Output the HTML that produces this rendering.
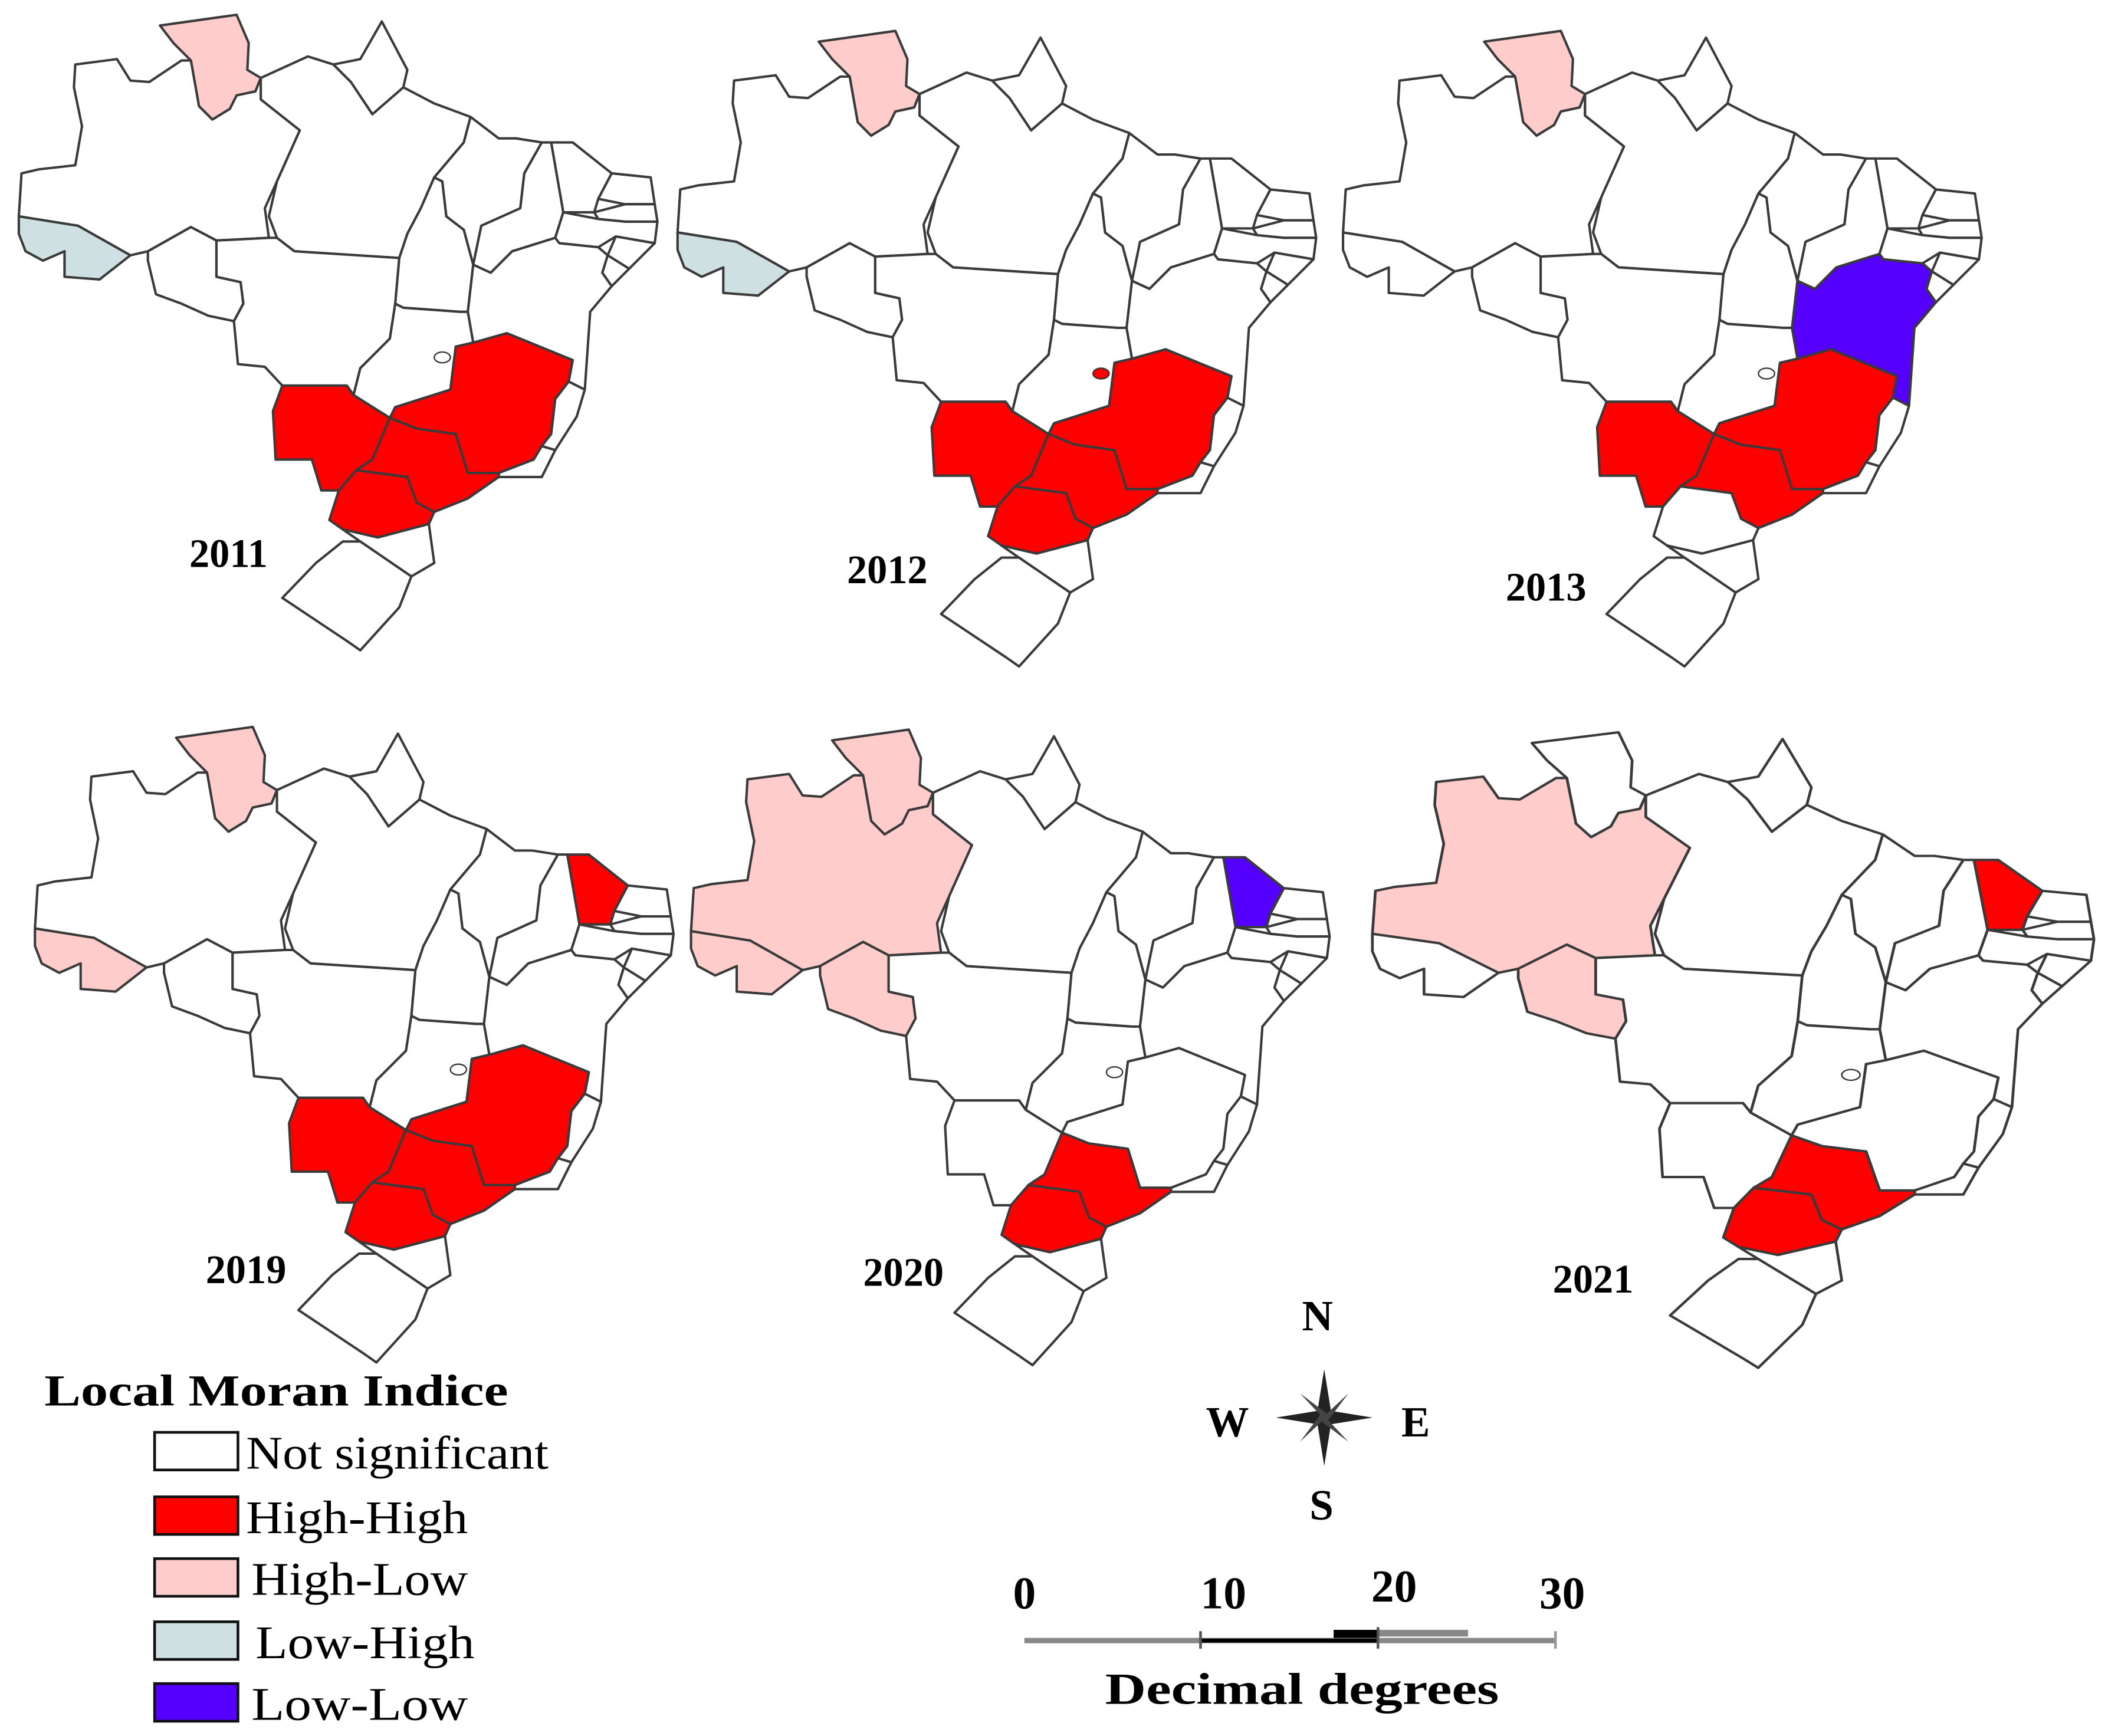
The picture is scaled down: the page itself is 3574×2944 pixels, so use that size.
<!DOCTYPE html>
<html><head><meta charset="utf-8"><style>
html,body{margin:0;padding:0;background:#fff;}
svg{display:block;}
text{font-family:"Liberation Serif",serif;}
</style></head><body>
<svg id="fig" width="3574" height="2944" viewBox="0 0 1568 1292" preserveAspectRatio="none" xmlns="http://www.w3.org/2000/svg">
<g id="panels"></g>
<g>
<text x="33" y="1046" font-size="33" font-weight="bold" textLength="345" lengthAdjust="spacingAndGlyphs">Local Moran Indice</text>
<g id="legend-rows"></g>
</g>
<g>
<text x="980" y="990" font-size="32" font-weight="bold" text-anchor="middle">N</text>
<text x="913" y="1069" font-size="32" font-weight="bold" text-anchor="middle">W</text>
<text x="1053" y="1069" font-size="32" font-weight="bold" text-anchor="middle">E</text>
<text x="983" y="1131" font-size="32" font-weight="bold" text-anchor="middle">S</text>
<g transform="translate(985,1055)" fill="#222">
<polygon points="0,-36 5,-5 36,0 5,5 0,36 -5,5 -36,0 -5,-5"/>
<polygon points="-18,-18 2,-3 18,-18 3,2 18,18 -2,3 -18,18 -3,-2" fill="#444"/>
</g>
</g>
<g>
<text x="762" y="1197" font-size="34" font-weight="bold" text-anchor="middle">0</text>
<text x="910" y="1197" font-size="34" font-weight="bold" text-anchor="middle">10</text>
<text x="1037" y="1192" font-size="34" font-weight="bold" text-anchor="middle">20</text>
<text x="1162" y="1197" font-size="34" font-weight="bold" text-anchor="middle">30</text>
<line x1="762" y1="1221" x2="1157" y2="1221" stroke="#888" stroke-width="4"/>
<line x1="893" y1="1221" x2="1025" y2="1221" stroke="#000" stroke-width="3"/>
<rect x="992" y="1213" width="33" height="6" fill="#000"/>
<rect x="1025" y="1213" width="67" height="5" fill="#888"/>
<line x1="893" y1="1214" x2="893" y2="1227" stroke="#555" stroke-width="2"/>
<line x1="1025" y1="1211" x2="1025" y2="1227" stroke="#555" stroke-width="2"/>
<line x1="1157" y1="1214" x2="1157" y2="1227" stroke="#999" stroke-width="2"/>
<text x="822" y="1268" font-size="33" font-weight="bold" textLength="293" lengthAdjust="spacingAndGlyphs">Decimal degrees</text>
</g>
</svg>
<script>
const years=["2011","2012","2013","2019","2020","2021"];
const redStates=[["MS","SP","PR","MG"],["MS","SP","PR","MG","DF"],["MS","SP","MG"],["MS","SP","PR","MG","CE"],["SP","PR"],["SP","PR","CE"]];
const pinkStates=[["RR"],["RR"],["RR"],["RR","AC"],["RR","AM","AC","RO"],["AM","RO"]];
const blueStates=[["AC"],["AC"],[],[],[],[]];
const purpleStates=[[],[],["BA"],[],["CE"],[]];
const legendLabels=["Not significant","High-High","High-Low","Low-High","Low-Low"];
const legendColors=["#ffffff","#ff0000","#ffcccc","#cfe0e3","#5500ff"];

const S={
RR:"119,19 176,11 185,32 184,52 194,58 190,68 176,71 171,81 158,89 148,79 142,45 129,32",
AM:"56,48 87,44 97,60 111,61 135,45 142,45 148,79 158,89 171,81 176,71 190,68 194,58 194,74 223,97 206,135 197,155 200,177 161,179 142,169 110,187 97,190 58,168 14,161 16,129 29,126 56,123 61,94 55,65",
AC:"14,161 58,168 97,190 74,208 48,206 48,187 32,194 19,187 14,174",
RO:"110,187 142,169 161,179 161,206 179,210 181,226 174,239 155,235 135,226 116,219 110,194",
PA:"194,58 229,42 248,48 261,61 277,85 300,65 323,77 350,87 345,106 323,132 313,155 303,174 297,192 219,187 206,177 200,161 206,135 223,97 194,74",
AP:"248,48 268,44 284,16 303,52 300,65 277,85 261,61",
MT:"161,179 200,177 206,177 219,187 297,192 294,226 290,252 268,274 263,294 258,287 210,287 197,273 177,271 174,239 181,226 179,210 161,206",
MS:"210,287 258,287 263,294 290,311 277,342 265,350 252,365 239,365 232,342 205,342 203,306",
GO:"294,226 300,229 342,232 348,232 352,255 339,258 335,290 294,303 290,311 263,294 268,274 290,252",
TO:"297,192 303,174 313,155 323,132 329,135 332,161 345,171 352,197 348,232 342,232 300,229 294,226",
MA:"350,87 371,103 384,103 403,106 390,129 387,155 358,168 352,197 345,171 332,161 329,135 323,132 345,106",
PI:"403,106 410,106 419,158 413,177 381,187 365,203 352,197 358,168 387,155 390,129",
CE:"410,106 426,106 455,129 445,148 442,158 419,158",
RN:"455,129 484,132 487,152 465,152 445,148",
PB:"442,158 465,152 487,152 489,165 465,165 445,163",
PE:"419,158 445,163 465,165 489,165 487,181 458,176 445,184 416,181 413,177",
AL:"458,176 487,181 468,200 452,190",
SE:"452,190 468,200 455,213 448,203",
BA:"352,197 365,203 381,187 413,177 416,181 445,184 452,190 448,203 455,213 439,232 435,290 423,284 426,268 377,248 352,255 348,232",
MG:"352,255 377,248 426,268 423,284 413,297 410,323 397,342 371,352 348,352 339,323 310,319 290,311 294,303 335,290 339,258",
ES:"423,284 435,290 429,310 413,335 403,332 410,323 413,297",
RJ:"397,342 403,332 413,335 403,355 371,355 371,352",
SP:"290,311 310,319 339,323 348,352 371,352 371,355 348,371 323,381 310,374 303,355 265,350 277,342",
PR:"265,350 303,355 310,374 323,381 319,390 281,400 255,394 245,387 252,365",
SC:"255,394 281,400 319,390 323,419 306,429 268,403",
RS:"268,403 306,429 297,452 268,484 258,477 210,445 235,419 255,403"
};
const T=["translate(0,0)","translate(490,12)","translate(985,12)","translate(12,530)","translate(500,532)","translate(1005,534) scale(1.13,1)"];
const L=[[170,422],[660,434],[1150,447],[183,955],[672,957],[1185,962]];
const NS="http://www.w3.org/2000/svg";
const panels=document.getElementById('panels');
years.forEach((y,i)=>{
  const g=document.createElementNS(NS,'g');
  
  
  g.setAttribute('transform',T[i]);
  Object.keys(S).forEach(k=>{
    const p=document.createElementNS(NS,'polygon');
    p.setAttribute('points',S[k]);
    let c='#fff';
    if(redStates[i].includes(k))c='#ff0000';
    else if(pinkStates[i].includes(k))c='#ffcccc';
    else if(blueStates[i].includes(k))c='#cfe0e3';
    else if(purpleStates[i].includes(k))c='#5500ff';
    p.setAttribute('fill',c);
    p.setAttribute('stroke','#3a3a3a');
    p.setAttribute('stroke-width','1.8');
    p.setAttribute('stroke-linejoin','round');
    
    
    g.appendChild(p);
  });
  const df=document.createElementNS(NS,'ellipse');
  df.setAttribute('cx','329');df.setAttribute('cy','266');df.setAttribute('rx','6');df.setAttribute('ry','4');
  df.setAttribute('fill',redStates[i].includes('DF')?'#ff0000':'#fff');
  df.setAttribute('stroke','#333');df.setAttribute('stroke-width','1');
  
  
  g.appendChild(df);
  panels.appendChild(g);
  const t=document.createElementNS(NS,'text');
  t.setAttribute('x',L[i][0]);t.setAttribute('y',L[i][1]);
  t.setAttribute('font-size','30');t.setAttribute('font-weight','bold');t.setAttribute('text-anchor','middle');
  
  
  t.textContent=y;
  panels.appendChild(t);
});
const lr=document.getElementById('legend-rows');
const ly=[1066,1114,1160,1207,1253];
const lx=[183,183,187,190,187];
const lw=[225,165,161,163,161];
legendLabels.forEach((lab,i)=>{
  const r=document.createElementNS(NS,'rect');
  r.setAttribute('x','115');r.setAttribute('y',ly[i]);r.setAttribute('width','62');r.setAttribute('height','28');
  r.setAttribute('fill',legendColors[i]);r.setAttribute('stroke','#111');r.setAttribute('stroke-width','2');
  
  
  lr.appendChild(r);
  const t=document.createElementNS(NS,'text');
  t.setAttribute('x',lx[i]);t.setAttribute('y',ly[i]+27);t.setAttribute('font-size','35');
  t.setAttribute('textLength',lw[i]);t.setAttribute('lengthAdjust','spacingAndGlyphs');
  
  
  t.textContent=lab;
  lr.appendChild(t);
});
</script>
</body></html>
